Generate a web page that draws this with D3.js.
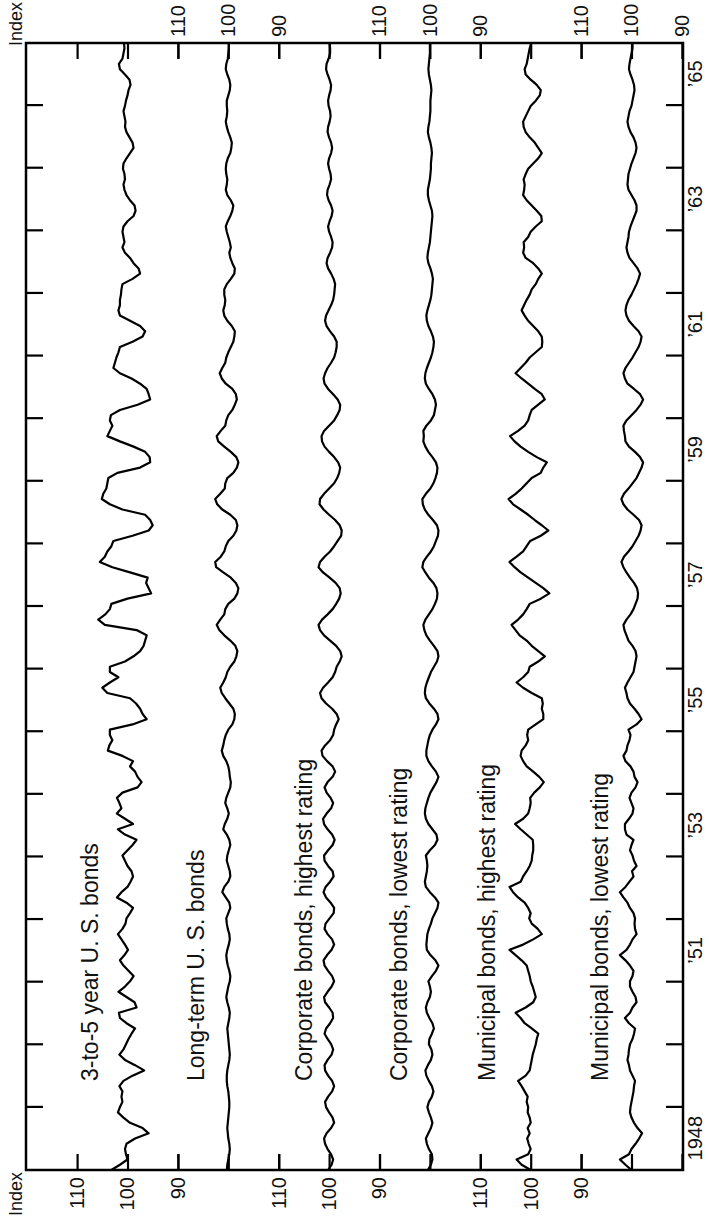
<!DOCTYPE html>
<html>
<head>
<meta charset="utf-8">
<script src="https://cdn.jsdelivr.net/npm/d3@7/dist/d3.min.js"></script>
<style>
  html, body { margin: 0; padding: 0; background: #fff; }
  svg { display: block; }
  text { font-family: "Liberation Sans", Arial, sans-serif; fill: #111; }
</style>
</head>
<body>
<svg id="chart" width="709" height="1226"></svg>
<script>
// ---- data -----------------------------------------------------------------
// Monthly index values, January 1948 through December 1965 (one row per year).
const seriesNames = [
  "3-to-5 year U. S. bonds",
  "Long-term U. S. bonds",
  "Corporate bonds, highest rating",
  "Corporate bonds, lowest rating",
  "Municipal bonds, highest rating",
  "Municipal bonds, lowest rating"
];

const usShort = [
  103.2,101.5,100.0,100.3,100.5,100.2, 98.5, 95.8, 97.0, 99.5,100.8,101.9,
  101.5,101.0,101.2,101.0,101.6,100.8, 99.0, 96.7, 98.5,100.5,101.6,100.8,
  100.3, 99.8, 99.2, 98.5,100.2,101.5,101.7, 98.2, 98.6,100.2,101.8,100.5,
   99.5, 98.8, 99.8,100.8,101.5,100.6, 99.9,100.5,101.2,101.9,101.0,100.4,
  100.2, 99.5, 98.9,100.2,102.1,101.2,100.0, 99.4, 98.9, 99.2,100.0,100.5,
  101.0,100.0, 99.0, 98.2,100.5,101.9, 98.9,100.5,102.1,101.2,101.6,102.1,
  101.0, 98.0, 97.2, 98.0, 98.5, 99.5, 98.9,101.0,103.9,103.6,103.0,103.5,
  103.5, 99.0, 96.2, 97.0, 97.5, 98.3, 99.5,104.0,105.0,103.5,101.8,103.5,
  103.5,100.5, 98.8, 97.5, 96.8, 96.5, 96.2, 98.2,104.5,105.8,104.4,103.5,
  103.2,100.0, 95.3, 95.8, 96.3, 96.0, 99.5,103.0,105.5,104.5,104.0,103.2,
  102.8, 99.0, 95.8, 95.0, 95.5, 96.5,101.0,103.5,105.1,104.8,104.2,104.0,
  103.8,102.0, 97.5, 95.5, 95.6, 96.5, 98.8,101.5,104.0,103.5,103.0,103.5,
  103.3,101.5, 98.0, 95.5, 95.8, 96.2, 97.5, 99.2,101.5,102.8,102.5,102.2,
  101.8,101.5, 99.0, 97.0, 96.5, 97.5, 99.5,101.5,101.8,101.5,101.5,101.3,
  101.2,101.0, 99.0, 97.5, 97.8, 98.8, 99.5,100.5,101.0,100.6,100.8,101.0,
  100.8,100.0, 98.8, 98.4, 98.6, 99.5,100.2,100.6,100.8,100.5,100.6,100.9,
  100.8,100.2, 99.5, 98.8, 99.0, 99.6,100.2,100.5,100.4,100.6,100.8,100.5,
  100.3,100.0, 99.8, 99.4, 99.6,100.5,101.5,101.7,101.0,100.8,100.6,100.7
];

const usLong = [
  100.3,100.2,100.0, 99.8, 99.7, 99.8,100.0,100.1,100.2,100.1,100.0, 99.9,
   99.8, 99.8, 99.9,100.0,100.2,100.3,100.3,100.2,100.0, 99.8, 99.7, 99.8,
   99.9,100.0,100.1,100.2,100.0, 99.8, 99.7, 99.9,100.2,100.4,100.2,100.0,
   99.7, 99.6, 99.8,100.1,100.3,100.4,100.2, 99.9, 99.7, 99.8,100.1,100.3,
  100.4,100.0, 99.6, 99.8,100.5,101.2,100.8,100.0, 99.6, 99.7,100.0,100.3,
  100.2, 99.9, 99.6, 99.8,100.3,101.0,100.7,100.2, 99.9,100.2,100.6,100.4,
  100.0, 99.6, 99.5, 99.7, 99.8,100.0,100.4,101.0,101.3,101.0,100.8,100.5,
  100.0, 99.2, 98.8, 98.7, 99.0, 99.8,100.6,101.3,101.6,101.0,100.5,100.2,
   99.6, 98.8, 98.4, 98.2, 98.6, 99.6,100.8,101.8,102.3,101.6,100.8,100.6,
  100.0, 98.8, 98.2, 98.0, 98.5, 99.5,101.0,102.4,102.6,101.5,100.8,100.5,
  100.0, 99.0, 98.4, 98.2, 98.5, 99.6,101.2,102.2,102.6,101.6,100.7,100.6,
  100.2, 99.0, 98.3, 98.0, 98.4, 99.5,100.8,102.0,102.3,101.5,100.6,100.4,
  100.0, 99.2, 98.7, 98.3, 98.5, 99.2,100.5,101.3,101.7,101.2,100.6,100.4,
  100.0, 99.5, 99.0, 98.8, 98.7, 99.3,100.2,100.8,101.0,100.7,100.6,100.8,
  100.8,100.3, 99.5, 98.8, 98.7, 99.2, 99.6, 99.8, 99.5, 99.7,100.0,100.3,
  100.5,100.1, 99.6, 99.2, 99.0, 99.5,100.2,100.5,100.3,100.2,100.4,100.5,
  100.4,100.1, 99.6, 99.4, 99.3, 99.6,100.0,100.3,100.5,100.3,100.2,100.3,
  100.3,100.0, 99.7, 99.6, 99.8,100.2,100.5,100.4,100.1,100.0, 99.9, 99.9
];

const corpHigh = [
  100.2, 99.5, 99.2, 99.6,100.3,100.8,101.0,100.5, 99.6, 99.0, 99.3,100.0,
  100.6,100.8,100.2, 99.4, 99.0, 99.4,100.2,100.8,100.9,100.3, 99.5, 99.2,
   99.6,100.3,100.9,100.6, 99.8, 99.2, 99.3,100.0,100.8,101.0,100.3, 99.5,
   99.0, 99.4,100.2,100.9,101.1,100.4, 99.5, 99.0, 99.4,100.3,100.9,100.7,
   99.9, 99.1, 99.0, 99.7,100.6,101.1,100.7, 99.8, 99.1, 99.3,100.2,100.9,
  101.0,100.2, 99.3, 98.9, 99.4,100.3,101.0,101.2,100.5, 99.6, 99.2, 99.7,
  100.5,100.9,100.3, 99.3, 98.8, 99.3,100.4,101.3,101.5,100.8, 99.8, 99.2,
   99.0, 98.6, 98.1, 98.5, 99.4,100.6,101.5,101.8,101.2,100.2, 99.3, 98.8,
   98.5, 97.9, 97.5, 97.8, 98.6, 99.8,101.0,101.8,102.1,101.4,100.3, 99.3,
   98.6, 98.0, 97.7, 97.9, 98.7, 99.9,101.2,102.1,101.8,100.9, 99.8, 99.0,
   98.3, 97.6, 97.5, 97.9, 98.8,100.0,101.1,101.9,101.8,101.0,100.0, 99.0,
   98.4, 98.0, 97.8, 98.2, 99.0,100.0,100.9,101.4,101.5,101.0,100.0, 99.0,
   98.4, 97.9, 97.8, 98.3, 99.2,100.2,100.9,101.1,100.8,100.3, 99.6, 99.0,
   98.7, 98.5, 98.5, 99.0, 99.8,100.5,100.8,100.6,100.1, 99.6, 99.2, 99.0,
   98.9, 98.8, 99.1, 99.6,100.2,100.5,100.3, 99.8, 99.4, 99.3, 99.6,100.0,
  100.2, 99.9, 99.5, 99.3, 99.6,100.1,100.4,100.3, 99.9, 99.6, 99.7,100.0,
  100.2,100.0, 99.6, 99.4, 99.6,100.0,100.3,100.2, 99.9, 99.7, 99.8,100.1,
  100.2,100.0, 99.7, 99.6, 99.9,100.3,100.6,100.5,100.1, 99.8, 99.8, 99.9
];

const corpLow = [
  100.4, 99.8, 99.5, 99.6,100.2,100.6,100.8,100.3, 99.8, 99.5, 99.8,100.2,
  100.5,100.2, 99.6, 99.3, 99.6,100.2,100.7,100.9,100.4, 99.8, 99.5, 99.7,
  100.2,100.1, 99.6, 99.2, 99.5,100.1,100.6,100.8,100.5,100.0, 99.8,100.0,
  100.3, 99.6, 98.8, 98.3, 98.9, 99.9,100.6,100.7,100.6,100.5,100.2, 99.8,
   99.5, 99.0, 98.5, 98.3, 99.0,100.0,100.8,101.0,100.8,100.6,100.5,100.6,
  100.8,100.0, 99.0, 98.5, 98.7, 99.5,100.3,100.8,101.0,100.9,100.6,100.3,
   99.9, 99.3, 98.7, 98.3, 98.8, 99.6,100.3,100.7,100.7,100.5,100.3,100.0,
   99.5, 98.8, 98.3, 98.5, 99.2,100.1,100.8,101.0,100.9,100.6,100.2, 99.8,
   99.2, 98.6, 98.3, 98.5, 99.2,100.0,100.7,101.1,101.3,100.9,100.2, 99.5,
   99.0, 98.6, 98.5, 98.7, 99.3,100.2,100.9,101.5,101.3,100.6, 99.8, 99.2,
   98.8, 98.4, 98.3, 98.6, 99.4,100.3,101.0,101.4,101.5,100.8, 99.9, 99.3,
   98.9, 98.6, 98.5, 98.8, 99.5,100.3,100.9,101.3,101.2,101.3,100.7, 99.8,
   99.2, 99.0, 98.8, 99.0, 99.5,100.2,100.8,101.0,100.9,100.6,100.2, 99.8,
   99.5, 99.3, 99.2, 99.4, 99.8,100.3,100.6,100.7,100.5,100.2, 99.9, 99.7,
   99.6, 99.5, 99.4, 99.6, 99.9,100.3,100.5,100.4,100.2,100.0, 99.9, 99.8,
   99.7, 99.6, 99.5, 99.6, 99.9,100.2,100.4,100.4,100.2,100.0, 99.9, 99.8,
   99.8, 99.7, 99.6, 99.7, 99.9,100.2,100.4,100.3,100.1,100.0, 99.9, 99.9,
   99.9, 99.8, 99.7, 99.8,100.0,100.2,100.3,100.2,100.1,100.0,100.0,100.0
];

const muniHigh = [
  100.0,101.8,102.8,100.5,100.0,100.4,100.7,100.2,100.6,100.0,100.2,100.6,
  100.5,100.8,100.6,101.2,101.8,102.5,101.0,100.2,100.0, 99.8, 99.6, 99.3,
   99.0, 98.8, 98.5, 99.8,101.2,102.0,103.0,101.0, 99.5, 99.0, 99.3, 99.6,
  100.0,100.2,100.5,100.8,101.8,103.0,104.2,101.5, 99.5, 97.8, 98.6, 99.8,
  100.3,100.0,100.5,101.2,102.5,103.5,104.2,102.0,101.5,100.8,100.2, 99.8,
   99.7, 99.5, 99.5, 99.6,100.8,102.0,103.1,101.5,100.5,100.2,100.0,100.1,
   99.3, 98.2, 97.4, 98.3, 99.5,100.8,101.5,102.0,101.8,101.0,100.5,100.7,
  100.5, 99.0, 97.5, 97.5, 97.8, 97.6, 97.8, 99.8,101.5,102.8,101.5,100.5,
  100.2, 98.5, 97.2, 98.5, 99.8,100.8,102.2,103.0,103.8,102.5,101.5,100.8,
  100.2, 98.0, 96.3, 97.5, 99.0,100.5,102.0,103.2,104.2,102.8,101.5,100.8,
  100.1, 98.0, 96.5, 97.8, 99.2,100.5,102.0,103.5,104.4,103.0,101.8,100.8,
   99.8, 98.0, 97.5, 96.8, 98.8,100.5,102.0,103.2,104.1,102.5,101.2,100.5,
  100.2, 99.8, 98.5, 97.2, 97.8, 99.2,100.5,101.8,103.0,102.0,101.0,100.2,
   99.0, 97.8, 97.7, 97.8, 98.5, 99.5,100.5,101.2,101.8,101.3,100.8,100.2,
   99.8, 99.0, 98.5, 97.8, 98.5, 99.5,101.0,101.5,101.3,101.4,100.5,100.0,
   99.0, 97.8, 97.9, 98.8, 99.8,100.8,101.5,101.3,101.2,101.4,101.0,100.5,
   99.5, 98.5, 97.8, 98.5, 99.2,100.2,101.0,101.4,101.5,101.0,100.5,100.0,
   99.0, 98.2, 98.0, 98.8,100.0,101.0,101.2,100.8,100.6,100.4,100.2, 99.9
];

const muniLow = [
  100.0,101.2,102.3,100.5,100.0, 99.2, 98.5, 97.9, 98.8, 99.5,100.0,100.3,
  100.2,100.0, 99.8, 99.6, 99.5, 99.3, 99.8,100.3,100.5,100.8,100.6,100.5,
  100.3, 99.8, 99.5, 99.3,100.5,101.3,100.3, 99.8, 99.0, 99.2, 99.8,100.3,
  100.3, 99.8, 99.6,100.3,101.2,102.3,101.0,100.3, 99.8, 99.0, 99.3, 99.4,
   99.3, 99.6,100.3,100.8,101.6,102.3,101.2,100.4, 99.6, 99.9, 99.0, 99.5,
   99.8,100.3,100.0, 99.6,101.0,101.3,101.3,100.5, 99.8, 99.6,100.0,100.4,
  100.0, 99.2, 98.8, 99.4, 99.6,100.2,101.2,101.6,101.0,100.8,100.4,100.2,
  100.6, 99.0, 98.0, 98.6, 99.4,100.3,100.8,101.0,101.3,100.8,100.2, 99.6,
   99.4, 99.2, 99.0, 99.2, 99.8,100.6,101.0,101.4,101.6,101.0,100.2, 99.6,
   99.2, 98.8, 98.7, 98.9, 99.5,100.3,101.0,101.6,102.0,101.5,100.6, 99.8,
   99.2, 98.6, 98.2, 98.0, 98.5, 99.6,100.8,101.6,102.0,101.5,100.6, 99.8,
   99.0, 98.5, 98.0, 97.7, 98.3, 99.3,100.5,101.2,101.3,101.5,101.6,101.0,
  100.0, 99.0, 98.2, 97.7, 98.3, 99.5,100.8,101.3,101.6,101.2,100.5, 99.8,
   99.2, 98.6, 98.2, 98.0, 98.6, 99.6,100.5,101.0,101.2,101.0,100.6,100.0,
   99.5, 99.0, 98.6, 98.3, 98.8, 99.6,100.4,100.8,101.0,100.8,100.6,100.5,
  100.2, 99.8, 99.4, 99.0, 99.0, 99.4,100.0,100.6,100.8,100.7,100.6,100.3,
  100.0, 99.6, 99.2, 99.0, 99.2, 99.6,100.2,100.6,100.8,100.6,100.4,100.0,
   99.8, 99.6, 99.4, 99.5, 99.8,100.2,100.5,100.4,100.2,100.0, 99.8, 99.8
];

const allSeries = [usShort, usLong, corpHigh, corpLow, muniHigh, muniLow];

const indexTicks = [110, 100, 90];
const tickYears = d3.range(1949, 1966);
const labelYears = [1948, 1951, 1953, 1955, 1957, 1959, 1961, 1963, 1965];
const yearText = y => (y === 1948 ? "1948" : "\u2019" + String(y).slice(2));

// ---- layout (drawn landscape, then turned a quarter turn) ------------------
const W = 1226, H = 709;
const frame = { left: 56, right: 1183, top: 26, bottom: 683 };
const panelGap = 100.8, firstBase = 127.5, halfPanel = 50.4;
const labelBaselines = [98, 204, 312, 407, 495, 608];
const labelStart = 145;

const svg = d3.select("#chart");
const g = svg.append("g").attr("transform", `translate(0,${W}) rotate(-90)`);

const xYear = d3.scaleLinear().domain([1948, 1966]).range([frame.left, frame.right]);
const xMonth = d3.scaleLinear().domain([0, usShort.length - 1]).range([frame.left, frame.right]);
const panelScale = i => {
  const base = firstBase + i * panelGap;
  return d3.scaleLinear().domain([90, 110]).range([base + halfPanel, base - halfPanel]);
};

// frame
g.append("rect")
  .attr("x", frame.left).attr("y", frame.top)
  .attr("width", frame.right - frame.left).attr("height", frame.bottom - frame.top)
  .attr("fill", "none").attr("stroke", "#000").attr("stroke-width", 2.5);

// index axes, labelled alternately on the left and right edges
allSeries.forEach((s, i) => {
  const y = panelScale(i);
  const leftLabelled = i % 2 === 0;
  const left = d3.axisLeft(y).tickValues(indexTicks).tickSize(-16).tickPadding(7)
    .tickFormat(leftLabelled ? d3.format("d") : () => "");
  const right = d3.axisRight(y).tickValues(indexTicks).tickSize(-16).tickPadding(6)
    .tickFormat(leftLabelled ? () => "" : d3.format("d"));
  [[left, frame.left], [right, frame.right]].forEach(([ax, pos]) => {
    const a = g.append("g").attr("transform", `translate(${pos},0)`).call(ax);
    a.select(".domain").remove();
    a.selectAll("line").attr("stroke", "#000").attr("stroke-width", 2.2);
    a.selectAll("text").attr("font-size", 20).attr("font-family", "Liberation Sans, Arial, sans-serif").attr("fill", "#111");
  });
});

// time axes: year ticks on both long edges, labels below
const topAx = g.append("g").attr("transform", `translate(0,${frame.top})`)
  .call(d3.axisTop(xYear).tickValues(tickYears).tickSize(-17).tickFormat(() => ""));
const botAx = g.append("g").attr("transform", `translate(0,${frame.bottom})`)
  .call(d3.axisBottom(xYear).tickValues(tickYears).tickSize(-17).tickFormat(() => ""));
[topAx, botAx].forEach(a => {
  a.select(".domain").remove();
  a.selectAll("line").attr("stroke", "#000").attr("stroke-width", 2.2);
});
const yearAx = g.append("g").attr("transform", `translate(0,${frame.bottom})`)
  .call(d3.axisBottom(xYear).tickValues(labelYears.map(y => y + 0.5)).tickSize(0).tickPadding(5)
    .tickFormat(v => yearText(Math.floor(v))));
yearAx.select(".domain").remove();
yearAx.selectAll("text").attr("font-size", 20).attr("font-family", "Liberation Sans, Arial, sans-serif").attr("fill", "#111");

// axis titles
g.append("text").attr("x", frame.left - 2).attr("y", 22).attr("text-anchor", "end")
  .attr("font-size", 18).text("Index");
g.append("text").attr("x", W - 2).attr("y", 22).attr("text-anchor", "end")
  .attr("font-size", 18).text("Index");

// series lines
allSeries.forEach((s, i) => {
  const y = panelScale(i);
  const line = d3.line().x((d, k) => xMonth(k)).y(d => y(d)).curve(d3.curveLinear);
  g.append("path").datum(s).attr("d", line)
    .attr("fill", "none").attr("stroke", "#000").attr("stroke-width", 2.2)
    .attr("stroke-linejoin", "round");
});

// series names
seriesNames.forEach((name, i) => {
  g.append("text").attr("x", labelStart).attr("y", labelBaselines[i])
    .attr("font-size", 23).text(name);
});
</script>
</body>
</html>
